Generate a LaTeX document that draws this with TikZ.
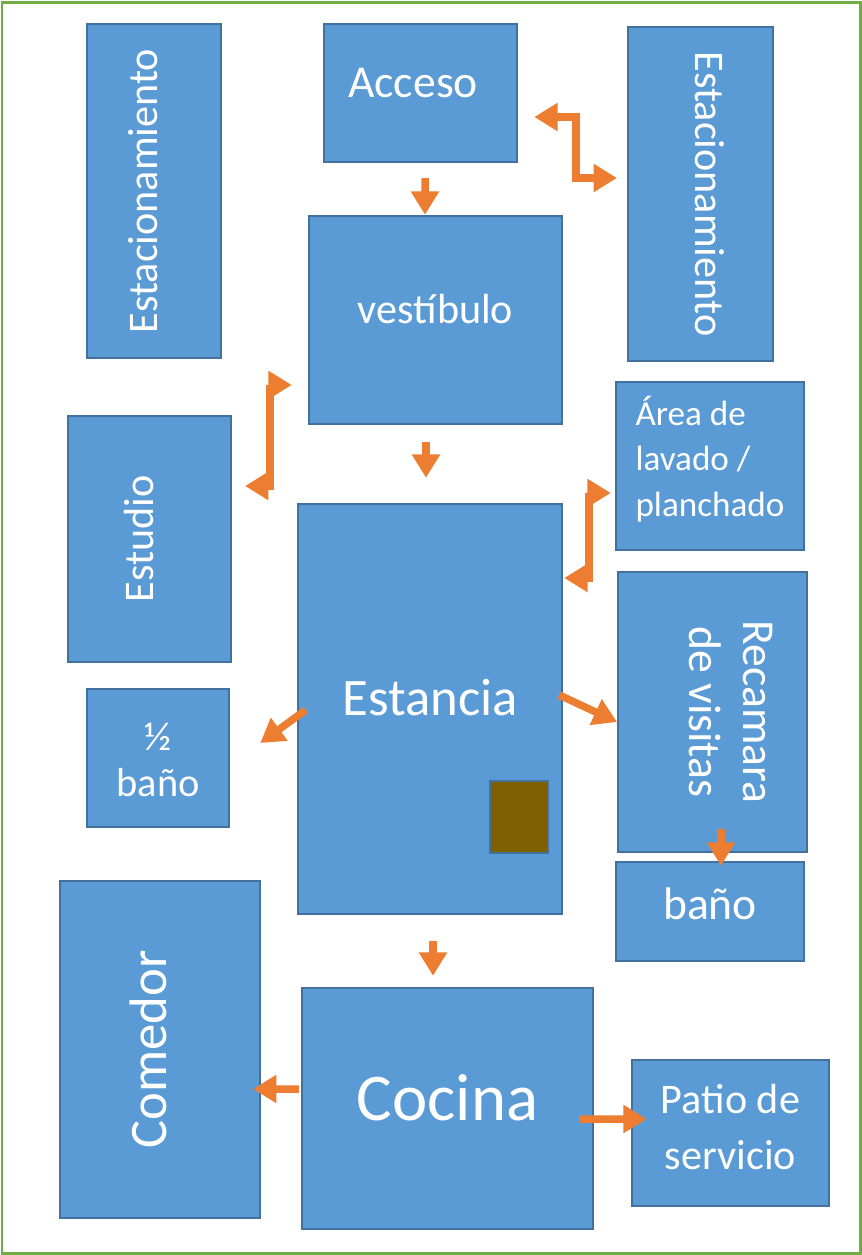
\documentclass[tikz,border=0pt]{standalone}
\usepackage{fontspec}
\setmainfont{Carlito}
\usetikzlibrary{arrows.meta}
\definecolor{roomblue}{HTML}{5B9BD5}
\definecolor{roomline}{HTML}{41719C}
\definecolor{flowor}{HTML}{ED7D31}
\definecolor{framegreen}{HTML}{70AD47}
\definecolor{hearthbrown}{HTML}{7F6000}
% push the text up (or down) inside its box
\newcommand*{\lift}[2]{\raisebox{0pt}[\height][\dimexpr\depth+#1pt\relax]{#2}}
\newcommand*{\sink}[2]{\raisebox{0pt}[\dimexpr\height+#1pt\relax][\depth]{#2}}
\tikzset{
  room/.style={draw=roomline, line width=0.05cm, fill=roomblue, text=white, inner sep=0pt},
  flow/.style={draw=flowor, line width=0.15cm, -{Triangle[width=0.54cm,length=0.47cm]}},
  twoway/.style={draw=flowor, line width=0.15cm, {Triangle[width=0.54cm,length=0.47cm]}-{Triangle[width=0.54cm,length=0.47cm]}},
}
\begin{document}
\begin{tikzpicture}[x=0.02cm, y=-0.02cm]
  \useasboundingbox (0,0) rectangle (862,1255);
  \draw[framegreen, line width=0.06cm] (2,2) rectangle (860,1253);

  % Define rooms
  \node[room, rotate=90, minimum width=6.68cm, minimum height=2.68cm, font=\fontsize{24}{29}\selectfont]  (park_l) at (154,191) {\lift{12.5}{Estacionamiento}};
  \node[room, minimum width=3.86cm, minimum height=2.76cm, font=\fontsize{26}{31}\selectfont]  (acceso) at (420.5,93) {\lift{11}{Acceso\hspace{8.5pt}}};
  \node[room, rotate=-90, minimum width=6.68cm, minimum height=2.9cm, font=\fontsize{24}{29}\selectfont]  (park_r) at (700.5,194) {\lift{11}{Estacionamiento}};
  \node[room, minimum width=5.06cm, minimum height=4.16cm, font=\fontsize{24}{29}\selectfont]  (vest) at (435.5,320) {\lift{12.5}{vestíbulo}};
  \node[room, rotate=90, minimum width=4.92cm, minimum height=3.26cm, font=\fontsize{24}{29}\selectfont]  (estudio) at (149.5,539) {\lift{12.5}{Estudio}};
  \node[room, minimum width=3.76cm, minimum height=3.36cm, font=\fontsize{20}{26}\selectfont]  (lavado) at (710,466) {\lift{5}{\begin{tabular}{@{}l@{}}Área de\\lavado /\\planchado\end{tabular}}};
  \node[room, minimum width=5.28cm, minimum height=8.2cm, font=\fontsize{30}{36}\selectfont]  (estancia) at (430,709) {\lift{12.5}{Estancia}};
  \node[draw=roomline, line width=0.05cm, fill=hearthbrown, minimum width=1.16cm, minimum height=1.44cm, inner sep=0pt]  (hearth) at (519,817) {};
  \node[room, minimum width=2.84cm, minimum height=2.76cm, font=\fontsize{23}{26}\selectfont]  (medio) at (158,758) {\sink{7}{\begin{tabular}{@{}c@{}}½\\baño\end{tabular}}};
  \node[room, rotate=-90, minimum width=5.6cm, minimum height=3.78cm, font=\fontsize{26}{31}\selectfont]  (recamara) at (712.5,712) {\lift{17}{\begin{tabular}{@{}c@{}}Recamara\\de visitas\end{tabular}}};
  \node[room, minimum width=3.76cm, minimum height=1.98cm, font=\fontsize{26}{31}\selectfont]  (bano) at (710,911.5) {\lift{9}{baño}};
  \node[room, rotate=90, minimum width=6.74cm, minimum height=4cm, font=\fontsize{30}{36}\selectfont]  (comedor) at (160,1049.5) {\lift{13.5}{Comedor}};
  \node[room, minimum width=5.82cm, minimum height=4.82cm, font=\fontsize{38}{46}\selectfont]  (cocina) at (447.5,1108.5) {\lift{12.5}{Cocina}};
  \node[room, minimum width=3.94cm, minimum height=2.92cm, font=\fontsize{24}{32}\selectfont]  (patio) at (730.5,1133) {\lift{3}{\begin{tabular}{@{}c@{}}Patio de\\servicio\end{tabular}}};

  % Connect the rooms
  \draw[flow] ([shift={(4.5,15)}]acceso.south) -- ([shift={(-10.5,0)}]vest.north);
  \draw[flow] ([shift={(-9.5,17)}]vest.south) -- ([shift={(-4,-25)}]estancia.north);
  \draw[flow] ([shift={(3,26)}]estancia.south) -- ([shift={(-14.5,-11)}]cocina.north);
  \draw[twoway] ([shift={(16,24)}]acceso.east) -- ++(42,0) |- ([shift={(-83.5,-16)}]park_r.center);
  \draw[twoway] ([shift={(95.5,-53)}]estudio.center) -- ++(25,0) |- ([shift={(-16,65)}]vest.west);
  \draw[twoway] ([shift={(1,-131)}]estancia.east) -- ++(25,0) |- ([shift={(-4,27)}]lavado.west);
  \draw[flow] ([shift={(9,1)}]estancia.west) -- ([shift={(30,-15)}]medio.east);
  \draw[flow] ([shift={(-4,-14)}]estancia.east) -- ([shift={(-95.5,10)}]recamara.center);
  \draw[flow] ([shift={(8.5,117)}]recamara.center) -- ([shift={(11,5)}]bano.north);
  \draw[flow] ([shift={(-2,-19.5)}]cocina.west) -- ([shift={(93,39.5)}]comedor.center);
  \draw[flow] ([shift={(-15,10.5)}]cocina.east) -- ([shift={(16,-14)}]patio.west);

\end{tikzpicture}
\end{document}
